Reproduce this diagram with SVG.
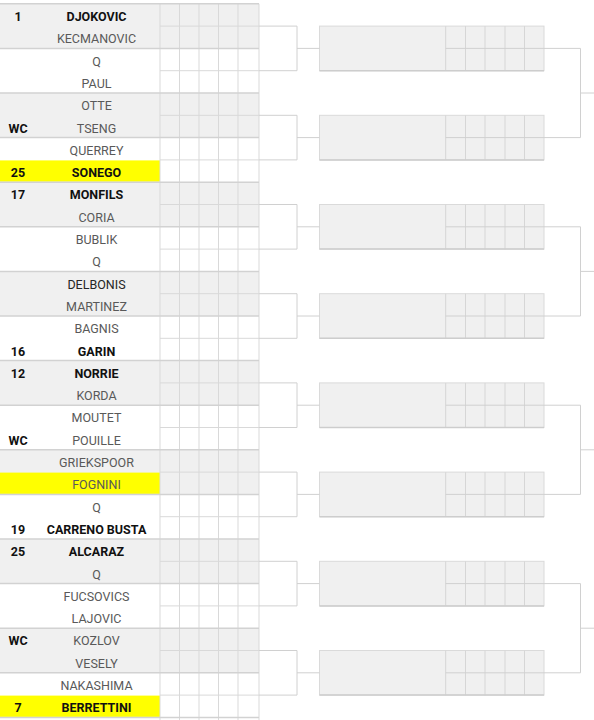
<svg xmlns="http://www.w3.org/2000/svg" width="594" height="720" viewBox="0 0 594 720">
<style>
text{font-family:Roboto,"Liberation Sans",Arial,sans-serif;font-size:12.5px}
.nm{fill:#595959;text-anchor:middle}
.b{fill:#111;font-weight:bold}
.sd{fill:#111;font-weight:bold;text-anchor:middle}
.dk{fill:#262626}
.band{fill:#f0f0f0}
.yel{fill:#ffff00}
.sep{stroke:#d2d2d2;stroke-width:1.5;fill:none}
.grid{stroke:#d9d9d9;stroke-width:1;fill:none}
.con{stroke:#d0d0d0;stroke-width:1;fill:none}
.box{fill:#f0f0f0;stroke:#dadada;stroke-width:1}
.boxb{stroke:#cdcdcd;stroke-width:1.5;fill:none}
.bgrid{stroke:#d6d6d6;stroke-width:1;fill:none}
</style>
<rect width="594" height="720" fill="#ffffff"/>
<g id="table">
<rect class="band" x="0" y="3.8" width="259" height="44.6"/>
<rect class="band" x="0" y="93.0" width="259" height="44.6"/>
<rect class="band" x="0" y="182.2" width="259" height="44.6"/>
<rect class="band" x="0" y="271.4" width="259" height="44.6"/>
<rect class="band" x="0" y="360.6" width="259" height="44.6"/>
<rect class="band" x="0" y="449.8" width="259" height="44.6"/>
<rect class="band" x="0" y="539.0" width="259" height="44.6"/>
<rect class="band" x="0" y="628.2" width="259" height="44.6"/>
<rect class="yel" x="0" y="160.4" width="160" height="21.3"/>
<rect class="yel" x="0" y="472.6" width="160" height="21.3"/>
<rect class="yel" x="0" y="695.6" width="160" height="21.3"/>
<path class="grid" d="M160,3.8V720M179.5,3.8V720M199,3.8V720M218.5,3.8V720M238,3.8V720M259,3.8V720"/>
<path class="grid" d="M160,26.1H259M160,70.7H259M160,115.3H259M160,159.9H259M160,204.5H259M160,249.1H259M160,293.7H259M160,338.3H259M160,382.9H259M160,427.5H259M160,472.1H259M160,516.7H259M160,561.3H259M160,605.9H259M160,650.5H259M160,695.1H259"/>
<path class="sep" d="M0,3.8H259M0,48.4H259M0,93.0H259M0,137.6H259M0,182.2H259M0,226.8H259M0,271.4H259M0,316.0H259M0,360.6H259M0,405.2H259M0,449.8H259M0,494.4H259M0,539.0H259M0,583.6H259M0,628.2H259M0,672.8H259M0,717.4H259"/>
</g>
<g id="p01"><text class="sd" x="18" y="21.0">1</text><text class="nm b" x="96.5" y="21.0">DJOKOVIC</text></g>
<g id="p02"><text class="nm" x="96.5" y="43.3">KECMANOVIC</text></g>
<g id="p03"><text class="nm" x="96.5" y="65.6">Q</text></g>
<g id="p04"><text class="nm" x="96.5" y="87.9">PAUL</text></g>
<g id="p05"><text class="nm" x="96.5" y="110.2">OTTE</text></g>
<g id="p06"><text class="sd" x="18" y="132.5">WC</text><text class="nm" x="96.5" y="132.5">TSENG</text></g>
<g id="p07"><text class="nm" x="96.5" y="154.8">QUERREY</text></g>
<g id="p08"><text class="sd" x="18" y="177.1">25</text><text class="nm b" x="96.5" y="177.1">SONEGO</text></g>
<g id="p09"><text class="sd" x="18" y="199.4">17</text><text class="nm b" x="96.5" y="199.4">MONFILS</text></g>
<g id="p10"><text class="nm" x="96.5" y="221.7">CORIA</text></g>
<g id="p11"><text class="nm" x="96.5" y="244.0">BUBLIK</text></g>
<g id="p12"><text class="nm" x="96.5" y="266.3">Q</text></g>
<g id="p13"><text class="nm dk" x="96.5" y="288.6">DELBONIS</text></g>
<g id="p14"><text class="nm" x="96.5" y="310.9">MARTINEZ</text></g>
<g id="p15"><text class="nm" x="96.5" y="333.2">BAGNIS</text></g>
<g id="p16"><text class="sd" x="18" y="355.5">16</text><text class="nm b" x="96.5" y="355.5">GARIN</text></g>
<g id="p17"><text class="sd" x="18" y="377.8">12</text><text class="nm b" x="96.5" y="377.8">NORRIE</text></g>
<g id="p18"><text class="nm" x="96.5" y="400.1">KORDA</text></g>
<g id="p19"><text class="nm" x="96.5" y="422.4">MOUTET</text></g>
<g id="p20"><text class="sd" x="18" y="444.7">WC</text><text class="nm" x="96.5" y="444.7">POUILLE</text></g>
<g id="p21"><text class="nm" x="96.5" y="467.0">GRIEKSPOOR</text></g>
<g id="p22"><text class="nm" x="96.5" y="489.3">FOGNINI</text></g>
<g id="p23"><text class="nm" x="96.5" y="511.6">Q</text></g>
<g id="p24"><text class="sd" x="18" y="533.9">19</text><text class="nm b" x="96.5" y="533.9">CARRENO BUSTA</text></g>
<g id="p25"><text class="sd" x="18" y="556.2">25</text><text class="nm b" x="96.5" y="556.2">ALCARAZ</text></g>
<g id="p26"><text class="nm" x="96.5" y="578.5">Q</text></g>
<g id="p27"><text class="nm" x="96.5" y="600.8">FUCSOVICS</text></g>
<g id="p28"><text class="nm" x="96.5" y="623.1">LAJOVIC</text></g>
<g id="p29"><text class="sd" x="18" y="645.4">WC</text><text class="nm" x="96.5" y="645.4">KOZLOV</text></g>
<g id="p30"><text class="nm" x="96.5" y="667.7">VESELY</text></g>
<g id="p31"><text class="nm" x="96.5" y="690.0">NAKASHIMA</text></g>
<g id="p32"><text class="sd" x="18" y="712.3">7</text><text class="nm b" x="96.5" y="712.3">BERRETTINI</text></g>
<g id="r2-1"><rect class="box" x="319.5" y="26.1" width="224.5" height="44.6"/><path class="bgrid" d="M445.7,26.1V70.7M465.5,26.1V70.7M485,26.1V70.7M505,26.1V70.7M524.5,26.1V70.7"/><path class="boxb" d="M319.5,70.7H544"/></g>
<g id="r2-2"><rect class="box" x="319.5" y="115.3" width="224.5" height="44.6"/><path class="bgrid" d="M445.7,115.3V159.9M465.5,115.3V159.9M485,115.3V159.9M505,115.3V159.9M524.5,115.3V159.9"/><path class="boxb" d="M319.5,159.9H544"/></g>
<g id="r2-3"><rect class="box" x="319.5" y="204.5" width="224.5" height="44.6"/><path class="bgrid" d="M445.7,204.5V249.1M465.5,204.5V249.1M485,204.5V249.1M505,204.5V249.1M524.5,204.5V249.1"/><path class="boxb" d="M319.5,249.1H544"/></g>
<g id="r2-4"><rect class="box" x="319.5" y="293.7" width="224.5" height="44.6"/><path class="bgrid" d="M445.7,293.7V338.3M465.5,293.7V338.3M485,293.7V338.3M505,293.7V338.3M524.5,293.7V338.3"/><path class="boxb" d="M319.5,338.3H544"/></g>
<g id="r2-5"><rect class="box" x="319.5" y="382.9" width="224.5" height="44.6"/><path class="bgrid" d="M445.7,382.9V427.5M465.5,382.9V427.5M485,382.9V427.5M505,382.9V427.5M524.5,382.9V427.5"/><path class="boxb" d="M319.5,427.5H544"/></g>
<g id="r2-6"><rect class="box" x="319.5" y="472.1" width="224.5" height="44.6"/><path class="bgrid" d="M445.7,472.1V516.7M465.5,472.1V516.7M485,472.1V516.7M505,472.1V516.7M524.5,472.1V516.7"/><path class="boxb" d="M319.5,516.7H544"/></g>
<g id="r2-7"><rect class="box" x="319.5" y="561.3" width="224.5" height="44.6"/><path class="bgrid" d="M445.7,561.3V605.9M465.5,561.3V605.9M485,561.3V605.9M505,561.3V605.9M524.5,561.3V605.9"/><path class="boxb" d="M319.5,605.9H544"/></g>
<g id="r2-8"><rect class="box" x="319.5" y="650.5" width="224.5" height="44.6"/><path class="bgrid" d="M445.7,650.5V695.1M465.5,650.5V695.1M485,650.5V695.1M505,650.5V695.1M524.5,650.5V695.1"/><path class="boxb" d="M319.5,695.1H544"/></g>
<g id="connectors">
<path class="con" d="M259,26.1H297V70.7H259M297,48.4H319.5"/>
<path class="con" d="M259,115.3H297V159.9H259M297,137.6H319.5"/>
<path class="con" d="M259,204.5H297V249.1H259M297,226.8H319.5"/>
<path class="con" d="M259,293.7H297V338.3H259M297,316.0H319.5"/>
<path class="con" d="M259,382.9H297V427.5H259M297,405.2H319.5"/>
<path class="con" d="M259,472.1H297V516.7H259M297,494.4H319.5"/>
<path class="con" d="M259,561.3H297V605.9H259M297,583.6H319.5"/>
<path class="con" d="M259,650.5H297V695.1H259M297,672.8H319.5"/>
<path class="con" d="M445.7,48.4H580.5V137.6H445.7M580.5,93.0H594"/>
<path class="con" d="M445.7,226.8H580.5V316.0H445.7M580.5,271.4H594"/>
<path class="con" d="M445.7,405.2H580.5V494.4H445.7M580.5,449.8H594"/>
<path class="con" d="M445.7,583.6H580.5V672.8H445.7M580.5,628.2H594"/>
</g>
</svg>
